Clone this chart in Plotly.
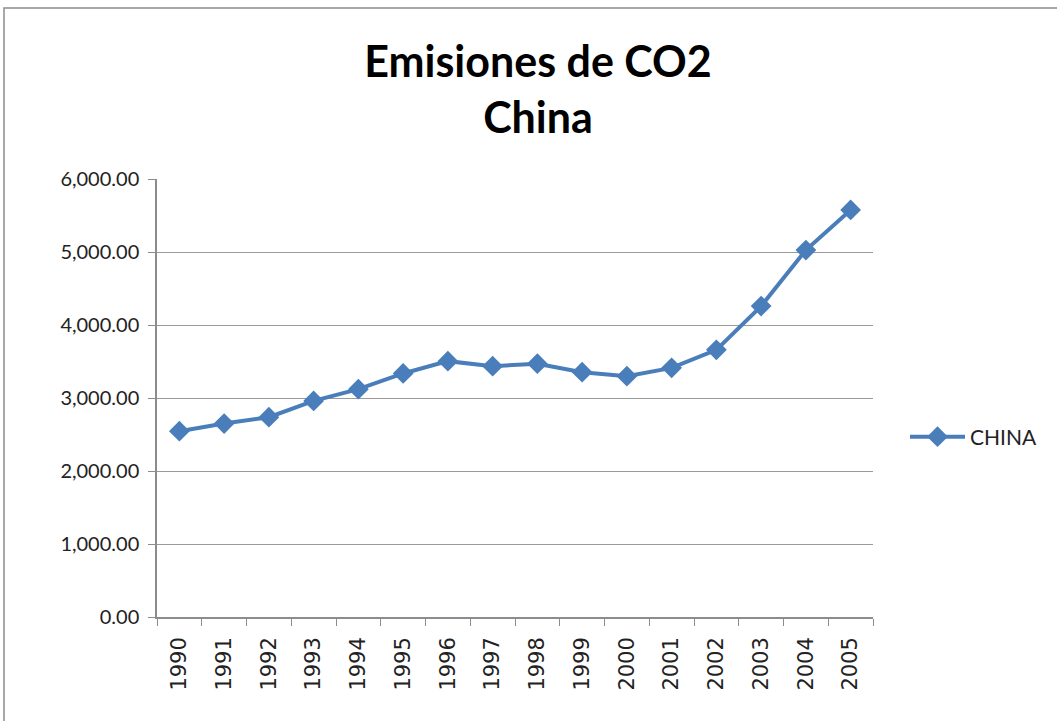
import plotly.graph_objects as go

# Emisiones de CO2 - China
years = ['1990', '1991', '1992', '1993', '1994', '1995', '1996', '1997',
         '1998', '1999', '2000', '2001', '2002', '2003', '2004', '2005']
china = [2545, 2650, 2737, 2960, 3121, 3336, 3505, 3436,
         3470, 3354, 3299, 3413, 3660, 4259, 5027, 5576]
y_ticks = [0, 1000, 2000, 3000, 4000, 5000, 6000]

W, H = 1057, 721
L, R, T, B = 157, 184, 179, 104
pw, ph = W - L - R, H - T - B

fig = go.Figure()

fig.add_trace(go.Scatter(
    x=years,
    y=china,
    mode='lines+markers',
    name='CHINA',
    line=dict(color='#4A7EBB', width=4),
    marker=dict(symbol='diamond', size=16, color='#4A7EBB')
))

# outer chart border (like the Excel chart area), cut by the right/bottom edge
fig.add_shape(
    type='rect', xref='paper', yref='paper',
    x0=(4 - L) / pw, x1=(1065 - L) / pw,
    y0=(H - B - 730) / ph, y1=(H - B - 8) / ph,
    line=dict(color='#8c8c8c', width=1.5), layer='below'
)

fig.update_layout(
    width=W, height=H,
    margin=dict(l=L, r=R, t=T, b=B),
    paper_bgcolor='white',
    plot_bgcolor='white',
    title=dict(
        text='<b>Emisiones de CO2<br>China</b>',
        x=538 / W, xanchor='center',
        y=1 - 77 / H, yanchor='middle',
        font=dict(family='Lato', size=43, color='black')
    ),
    font=dict(family='Lato', color='#222222'),
    showlegend=True,
    legend=dict(
        x=(905 - L) / pw, xanchor='left',
        y=(H - B - 437) / ph, yanchor='middle',
        font=dict(family='Lato', size=21, color='#222222'),
        bgcolor='rgba(0,0,0,0)',
        itemwidth=55
    ),
    xaxis=dict(
        type='category',
        range=[-0.5, len(years) - 0.5],
        tickangle=-90,
        tickson='boundaries',
        ticks='outside',
        ticklen=7,
        tickcolor='#8c8c8c',
        ticklabelstandoff=10,
        showline=True,
        linecolor='#8c8c8c',
        linewidth=1.5,
        showgrid=False,
        tickfont=dict(family='DejaVu Sans', size=21, color='#222222')
    ),
    yaxis=dict(
        range=[0, 6000],
        tickvals=y_ticks,
        tickformat=',.2f',
        ticks='outside',
        ticklen=7,
        tickcolor='#8c8c8c',
        ticklabelstandoff=5,
        showline=True,
        linecolor='#8c8c8c',
        linewidth=1.5,
        showgrid=True,
        gridcolor='#9a9a9a',
        gridwidth=1.2,
        zeroline=False,
        tickfont=dict(family='Lato', size=20, color='#222222')
    )
)

# drop the default 8px page margin so the figure sits at the window origin
fig.write_html("out.html", config={'displayModeBar': False},
               post_script="document.body.style.margin='0';")
